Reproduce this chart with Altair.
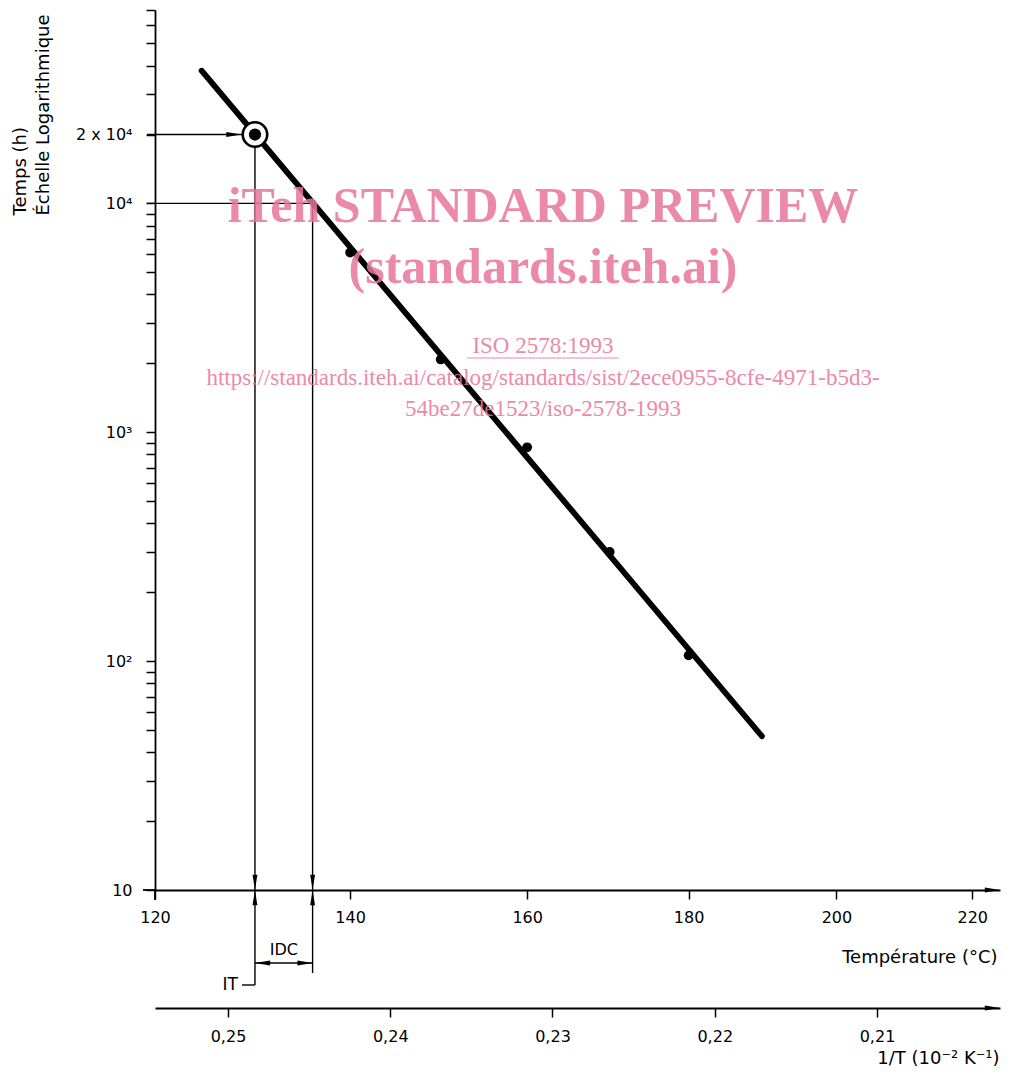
import altair as alt
import pandas as pd

# ---------------- values ----------------
temp_pts = [140, 150, 160, 170, 180]            # °C
hours_pts = [6100, 2080, 860, 300, 106]         # h
it_temp, it_hours = 130, 20000                  # IT point (circled)
idc_temp, idc_hours = 136, 10000                # 10^4 h crossing
line_temps = [124.6, 189.7]                     # fitted line end points
line_hours = [38000, 47]

temp_ticks = [120, 140, 160, 180, 200, 220]
temp_labels = ["120", "140", "160", "180", "200", "220"]
inv_ticks = [0.25, 0.24, 0.23, 0.22, 0.21]
inv_labels = ["0,25", "0,24", "0,23", "0,22", "0,21"]
y_ticks = [10, 20, 30, 40, 50, 60, 70, 80, 90,
           100, 200, 300, 400, 500, 600, 700, 800, 900,
           1000, 2000, 3000, 4000, 5000, 6000, 7000, 8000, 9000,
           10000, 20000, 30000, 40000, 50000, 60000, 70000]
y_label_values = [10, 100, 1000, 10000, 20000]
y_labels = ["10", "10²", "10³", "10⁴", "2 x 10⁴"]

x_temp_range = [120, 224.3]          # temperature span of the plot width
x_inv_range = [0.202419, 0.254499]   # 1/T span of the lower scale
y_range = [10, 70000]

W, H = 845, 880
FONT = "DejaVu Sans"
WM = "#E8769A"
ARROW = "M0,0L-2,-0.32L-2,0.32Z"


def inv(t):
    return 100.0 / (t + 273.15)


def label_expr(values, labels):
    parts = [f"abs(datum.value - {v}) < 1e-7 ? '{l}'" for v, l in zip(values, labels)]
    return " : ".join(parts) + " : ''"


x_main = alt.Scale(domain=[inv(x_temp_range[1]), inv(x_temp_range[0])],
                   reverse=True, nice=False, zero=False)
y_scale = alt.Scale(type="log", domain=y_range, nice=False)

temp_axis = alt.Axis(
    orient="bottom", values=[inv(t) for t in temp_ticks],
    labelExpr=label_expr([inv(t) for t in temp_ticks], temp_labels),
    labelFlush=False, labelOverlap=False, labelPadding=10,
    title="Température (°C)", titleX=842, titleY=67,
    titleAlign="right", titleBaseline="middle", titleAnchor="end",
)
y_axis = alt.Axis(
    orient="left", values=y_ticks,
    labelExpr=label_expr(y_label_values, y_labels),
    labelFlush=False, labelOverlap=False, labelPadding=14,
    labelBaseline="middle",
    title=["Temps (h)", "Échelle Logarithmique"],
    titleAngle=270, titleAlign="left", titleBaseline="top",
    titleX=-144, titleY=205, titleLineHeight=23,
)

X = alt.X("u:Q", scale=x_main, axis=temp_axis)
Y = alt.Y("h:Q", scale=y_scale, axis=y_axis)

it_u, idc_u = inv(it_temp), inv(idc_temp)

# ---------------- guide lines ----------------
df_h = pd.DataFrame({"u": [it_u, idc_u], "h": [it_hours, idc_hours]})
hlines = alt.Chart(df_h).mark_rule(color="black", strokeWidth=1.4).encode(
    x=X, x2=alt.value(-8), y=Y)

df_it = pd.DataFrame({"u": [it_u], "h": [it_hours]})
vline_it = alt.Chart(df_it).mark_rule(color="black", strokeWidth=1.4).encode(
    x=X, y=Y, y2=alt.value(975))
df_idc = pd.DataFrame({"u": [idc_u], "h": [idc_hours]})
vline_idc = alt.Chart(df_idc).mark_rule(color="black", strokeWidth=1.4).encode(
    x=X, y=Y, y2=alt.value(963))

leader = alt.Chart(pd.DataFrame({"u": [it_u]})).mark_rule(
    color="black", strokeWidth=1.4).encode(x=X, x2=alt.value(87), y=alt.value(975))
dim = alt.Chart(pd.DataFrame({"u": [it_u], "u2": [idc_u]})).mark_rule(
    color="black", strokeWidth=1.4).encode(x=X, x2="u2:Q", y=alt.value(953))

ext_x = alt.Chart(pd.DataFrame({"a": [0]})).mark_rule(color="black", strokeWidth=1.8).encode(
    x=alt.value(-12), x2=alt.value(0), y=alt.value(H))
ext_y = alt.Chart(pd.DataFrame({"a": [0]})).mark_rule(color="black", strokeWidth=1.8).encode(
    x=alt.value(0), y=alt.value(H), y2=alt.value(H + 10))

# ---------------- data ----------------
df_line = pd.DataFrame({"u": [inv(t) for t in line_temps], "h": line_hours})
fit = alt.Chart(df_line).mark_line(color="black", strokeWidth=5.8, strokeCap="round").encode(
    x=X, y=Y)

df_pts = pd.DataFrame({"u": [inv(t) for t in temp_pts], "h": hours_pts})
pts = alt.Chart(df_pts).mark_circle(color="black", size=95, opacity=1).encode(x=X, y=Y)

ring = alt.Chart(df_it).mark_point(shape="circle", filled=True, fill="white", stroke="black",
                                   strokeWidth=2.6, size=600, opacity=1).encode(x=X, y=Y)
dot = alt.Chart(df_it).mark_circle(color="black", size=150, opacity=1).encode(x=X, y=Y)

# ---------------- arrow heads ----------------
df_arr = pd.DataFrame({
    "u": [it_u, it_u, idc_u, idc_u, inv(x_temp_range[1])],
    "h": [10, 10, 10, 10, 10],
    "ang": [90, 270, 90, 270, 0],
})
arrows = alt.Chart(df_arr).mark_point(shape=ARROW, filled=True, color="black", size=230,
                                      opacity=1).encode(
    x=X, y=Y, angle=alt.Angle("ang:Q", scale=None))
arrow_it = alt.Chart(df_it.assign(ang=0)).mark_point(
    shape=ARROW, filled=True, color="black", size=230, opacity=1, xOffset=-13.5).encode(
    x=X, y=Y, angle=alt.Angle("ang:Q", scale=None))
arrow_dim = alt.Chart(pd.DataFrame({"u": [it_u, idc_u], "ang": [180, 0]})).mark_point(
    shape=ARROW, filled=True, color="black", size=230, opacity=1).encode(
    x=X, y=alt.value(953), angle=alt.Angle("ang:Q", scale=None))

# ---------------- annotation texts ----------------
txt_it = alt.Chart(pd.DataFrame({"t": ["IT"]})).mark_text(
    font=FONT, fontSize=17, align="right", baseline="middle", color="black").encode(
    x=alt.value(83), y=alt.value(975), text="t:N")
txt_idc = alt.Chart(pd.DataFrame({"u": [(it_u + idc_u) / 2], "t": ["IDC"]})).mark_text(
    font=FONT, fontSize=16, align="center", baseline="middle", color="black").encode(
    x=X, y=alt.value(940), text="t:N")

# ---------------- watermark ----------------
def wm(text, x, y, size, bold):
    return alt.Chart(pd.DataFrame({"t": [text]})).mark_text(
        font="Liberation Serif", fontSize=size, fontWeight="bold" if bold else "normal",
        color=WM, opacity=0.85, align="center", baseline="middle").encode(
        x=alt.value(x), y=alt.value(y), text="t:N")

wm1 = wm("iTeh STANDARD PREVIEW", 388, 197, 50, True)
wm2 = wm("(standards.iteh.ai)", 388, 258, 50, True)
wm3 = wm("ISO 2578:1993", 388, 336, 23, False)
wm4 = wm("https://standards.iteh.ai/catalog/standards/sist/2ece0955-8cfe-4971-b5d3-", 388, 368, 23, False)
wm5 = wm("54be27de1523/iso-2578-1993", 388, 399, 23, False)
wm_ul = alt.Chart(pd.DataFrame({"a": [0]})).mark_rule(color=WM, opacity=0.85, strokeWidth=1.2).encode(
    x=alt.value(312), x2=alt.value(464), y=alt.value(348))

inner = alt.layer(ext_x, ext_y, hlines, vline_it, vline_idc, leader, dim, fit, pts, ring, dot,
                  arrows, arrow_it, arrow_dim, txt_it, txt_idc,
                  wm1, wm2, wm3, wm4, wm5, wm_ul)

# ---------------- lower 1/T axis ----------------
low_axis = alt.Axis(
    orient="bottom", offset=118, values=inv_ticks,
    labelExpr=label_expr(inv_ticks, inv_labels),
    labelFlush=False, labelOverlap=False, labelPadding=11,
    title="1/T (10⁻² K⁻¹)", titleX=844, titleY=50,
    titleAlign="right", titleBaseline="middle", titleAnchor="end",
)
lower = alt.Chart(pd.DataFrame({"v": [x_inv_range[0]], "ang": [0]})).mark_point(
    shape=ARROW, filled=True, color="black", size=230, opacity=1).encode(
    x=alt.X("v:Q", scale=alt.Scale(domain=x_inv_range, reverse=True, nice=False, zero=False),
            axis=low_axis),
    y=alt.value(H + 118),
    angle=alt.Angle("ang:Q", scale=None),
)

chart = alt.layer(inner, lower).resolve_scale(x="independent").properties(
    width=W, height=H,
    padding={"left": 147, "top": 2, "right": 2, "bottom": 180},
    autosize=alt.AutoSizeParams(type="none"),
).configure_view(stroke=None).configure_axis(
    domainColor="black", domainWidth=1.8, tickColor="black", tickWidth=1.5, tickSize=9,
    labelColor="black", titleColor="black", labelFont=FONT, titleFont=FONT,
    labelFontSize=16, titleFontSize=18, titleFontWeight="normal", grid=False,
)

chart.save("out.html", embed_options={"renderer": "svg", "actions": False})
